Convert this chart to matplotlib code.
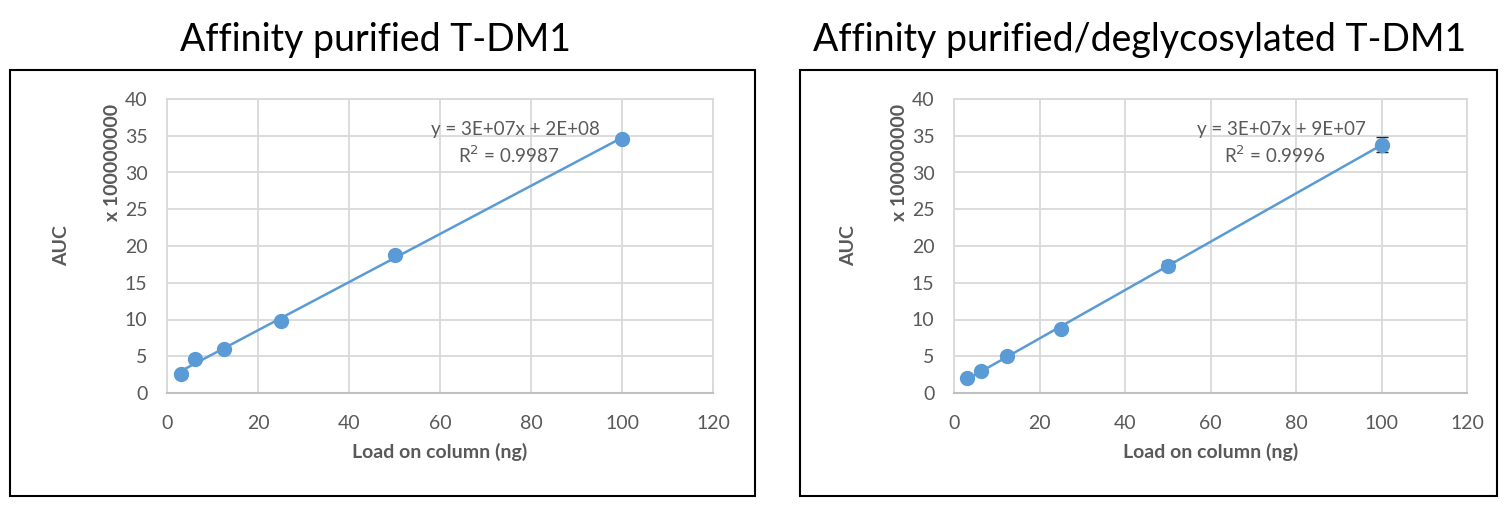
import numpy as np
import matplotlib.pyplot as plt
from matplotlib.patches import Rectangle

plt.rcParams['font.family'] = ['Lato', 'DejaVu Sans']

# load on column (ng)
load = [3.125, 6.25, 12.5, 25, 50, 100]

# AUC x 1e8
auc_affinity = [2.6, 4.6, 6.0, 9.8, 18.8, 34.6]
auc_deglyco = [2.0, 3.0, 5.0, 8.7, 17.3, 33.8]
err_affinity = [0.1, 0.1, 0.1, 0.1, 0.2, 0.3]
err_deglyco = [0.1, 0.1, 0.2, 0.2, 0.6, 1.0]

titles = ['Affinity purified T-DM1', 'Affinity purified/deglycosylated T-DM1']
equations = ['y = 3E+07x + 2E+08', 'y = 3E+07x + 9E+07']
r2_labels = ['R$^2$ = 0.9987', 'R$^2$ = 0.9996']

blue = '#5B9BD5'
txt = '#595959'

fig = plt.figure(figsize=(15.07, 5.14), dpi=100)

panels = [
    dict(box=(10, 755), ax=(167, 713), y=auc_affinity, e=err_affinity, tx=375),
    dict(box=(800, 1497), ax=(954, 1467), y=auc_deglyco, e=err_deglyco, tx=1140),
]
W, H = 1507, 514

for i, p in enumerate(panels):
    b0, b1 = p['box']
    fig.patches.append(Rectangle((b0 / W, 18 / H), (b1 - b0) / W, 426 / H,
                                 transform=fig.transFigure, fill=False,
                                 edgecolor='black', linewidth=1.5))
    fig.text(p['tx'] / W, 1 - 40 / H, titles[i], fontsize=27, ha='center',
             va='center', color='black')

    a0, a1 = p['ax']
    ax = fig.add_axes([a0 / W, (H - 393) / H, (a1 - a0) / W, 294 / H])
    ax.set_xlim(0, 120)
    ax.set_ylim(0, 40)
    ax.set_xticks(range(0, 121, 20))
    ax.set_yticks(range(0, 41, 5))
    ax.grid(True, color='#D9D9D9', linewidth=1.3)
    ax.set_axisbelow(True)
    for s in ['top', 'right', 'left']:
        ax.spines[s].set_color('#D9D9D9')
        ax.spines[s].set_linewidth(1.3)
    ax.spines['bottom'].set_color('#BFBFBF')
    ax.spines['bottom'].set_linewidth(1.5)
    ax.tick_params(length=0, labelsize=14, labelcolor=txt)
    ax.tick_params(axis='y', pad=14)
    ax.tick_params(axis='x', pad=16)

    # linear trendline
    k, c = np.polyfit(load, p['y'], 1)
    xs = np.array([load[0], load[-1]])
    ax.plot(xs, k * xs + c, color=blue, linewidth=1.8, zorder=2)
    ax.errorbar(load, p['y'], yerr=p['e'], fmt='o', color=blue, markersize=10,
                ecolor='#222222', elinewidth=1.2, capsize=4, zorder=3)

    ax.text(76.5, 35.8, equations[i], ha='center', va='center',
            fontsize=13.5, color=txt)
    ax.text(75, 32.4, r2_labels[i], ha='center', va='center',
            fontsize=13.5, color=txt)

    ax.set_xlabel('Load on column (ng)', fontsize=14, fontweight='bold',
                  color=txt, labelpad=8)
    fig.text((a0 - 105) / W, 1 - 246 / H, 'AUC', rotation=90, fontsize=14,
             fontweight='bold', color=txt, ha='center', va='center')
    fig.text((a0 - 54) / W, 1 - 162 / H, 'x 100000000', rotation=90,
             fontsize=14, fontweight='bold', color=txt, ha='center', va='center')

fig.savefig('out.png', dpi=100)
